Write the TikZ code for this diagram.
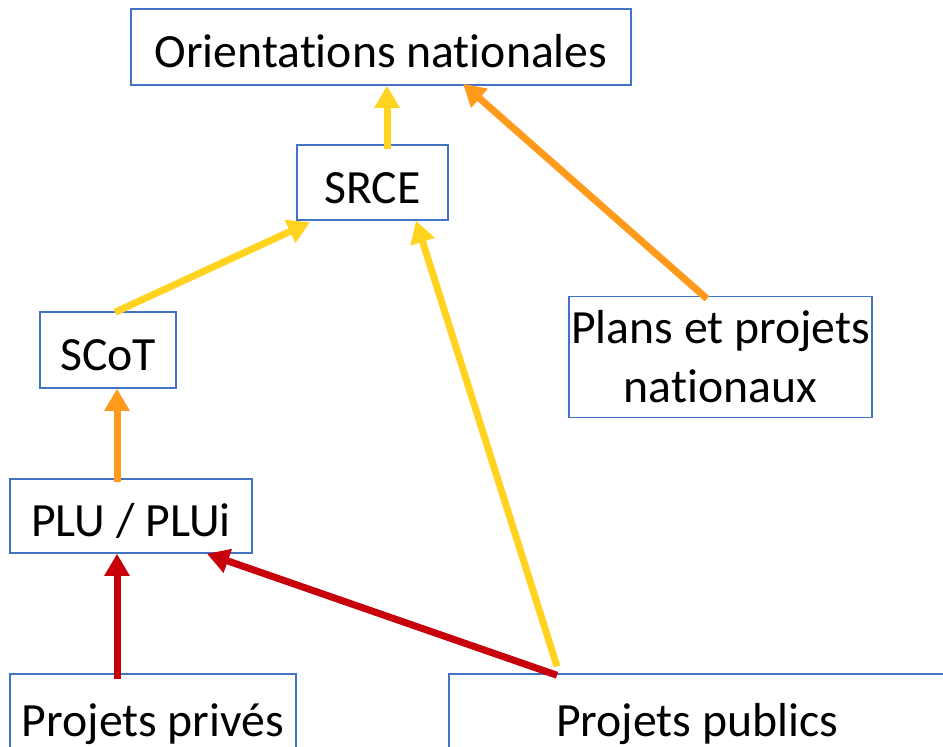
\documentclass[tikz,border=0pt]{standalone}
\usepackage{fontspec}
\setmainfont[Ligatures=NoCommon,RawFeature=-liga]{Carlito}
\usetikzlibrary{arrows.meta}
\definecolor{boxblue}{HTML}{4472C4}
\definecolor{cyel}{HTML}{FFD320}
\definecolor{corg}{HTML}{FF9A1A}
\definecolor{cred}{HTML}{C8000A}
\tikzset{
  box/.style={draw=boxblue, line width=1.5pt, rectangle, inner sep=0pt, align=center,
    font=\fontsize{47.7}{59}\selectfont},
  oneline/.style={box, text height=43pt, text depth=2pt},
  conn/.style={line width=7pt, -{Triangle[width=24pt,length=22pt]}},
}
\begin{document}
\begin{tikzpicture}[x=1pt,y=1pt]
\useasboundingbox (0,0) rectangle (943,-747);
\fill[white] (0,0) rectangle (943,-747);
\node[oneline, minimum width=500pt, minimum height=76pt] (orient) at (381,-47) {Orientations nationales};
\node[oneline, minimum width=151pt, minimum height=75pt] (srce) at (372.5,-182.5) {SRCE};
\node[oneline, minimum width=136pt, minimum height=76pt] (scot) at (108,-350) {SCoT};
\node[oneline, minimum width=242pt, minimum height=74pt] (plu) at (131,-516) {PLU / PLUi};
\node[box, minimum width=303pt, minimum height=121pt] (plans) at (720.5,-357) {Plans et projets\\nationaux};
\node[oneline, minimum width=286pt, minimum height=84pt] (prive) at (153,-716) {Projets privés};
\node[oneline, minimum width=496pt, minimum height=84pt] (public) at (697,-716) {Projets publics};
% connectors
\draw[conn, cyel] ([xshift=14.5pt,yshift=-5pt]srce.north) -- ([xshift=6pt]orient.south);
\draw[conn, corg] ([xshift=-13.5pt,yshift=-3pt]plans.north) -- ([xshift=82pt,yshift=2pt]orient.south);
\draw[conn, cyel] ([xshift=7pt,yshift=-1pt]scot.north) -- ([xshift=-62.5pt,yshift=-1.5pt]srce.south);
\draw[conn, cyel] ([xshift=-140pt,yshift=7pt]public.north) -- ([xshift=43.5pt,yshift=0pt]srce.south);
\draw[conn, corg] ([xshift=-14pt,yshift=-4pt]plu.north) -- ([xshift=9pt]scot.south);
\draw[conn, cred] ([xshift=-36pt,yshift=-6pt]prive.north) -- ([xshift=-14pt]plu.south);
\draw[conn, cred] ([xshift=-140pt,yshift=-2pt]public.north) -- ([xshift=76pt]plu.south);
\end{tikzpicture}
\end{document}
